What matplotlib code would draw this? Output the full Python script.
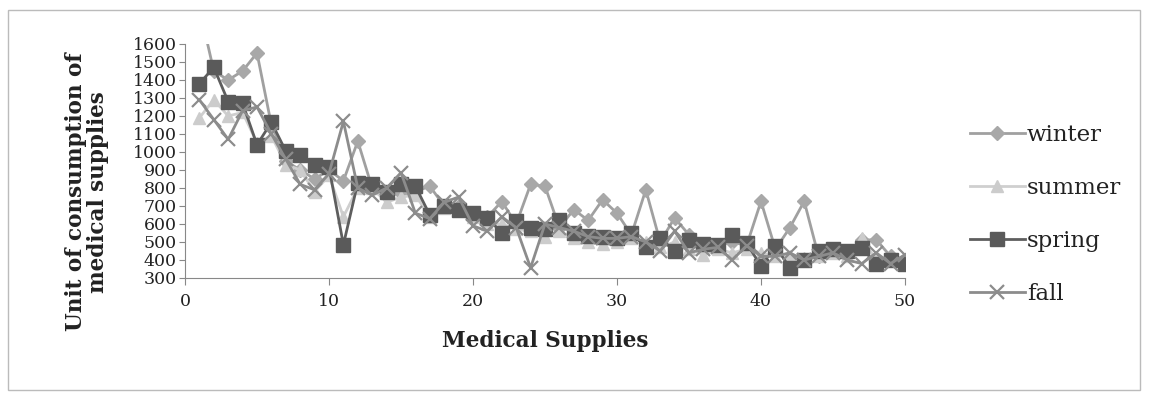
import matplotlib
matplotlib.use("Agg")
import matplotlib.pyplot as plt
from matplotlib.patches import Rectangle

x = list(range(1, 51))
winter = [1800, 1450, 1400, 1450, 1550, 1150, 950, 900, 850, 900,
          840, 1060, 800, 760, 770, 780, 810, 700, 700, 650,
          640, 725, 600, 820, 810, 580, 680, 620, 735, 660,
          540, 790, 500, 634, 540, 480, 480, 500, 480, 726,
          460, 579, 726, 420, 450, 440, 510, 513, 420, 390]
summer = [1190, 1290, 1200, 1220, 1050, 1090, 930, 900, 780, 870,
          640, 800, 800, 720, 750, 760, 640, 690, 680, 640,
          600, 600, 570, 560, 530, 560, 520, 500, 490, 500,
          520, 500, 470, 500, 460, 430, 460, 440, 460, 440,
          420, 420, 410, 420, 440, 420, 520, 400, 400, 400]
spring = [1380, 1470, 1280, 1270, 1040, 1165, 1005, 985, 930, 915,
          485, 830, 820, 780, 820, 810, 650, 700, 680, 660,
          635, 550, 615, 580, 570, 620, 550, 535, 530, 525,
          550, 470, 520, 450, 510, 490, 485, 540, 495, 365,
          476, 357, 400, 450, 460, 450, 465, 380, 400, 380]
fall = [1290, 1180, 1070, 1230, 1250, 1100, 960, 820, 790, 880,
        1170, 800, 760, 800, 885, 660, 630, 720, 750, 590,
        560, 640, 580, 357, 600, 580, 560, 530, 520, 520,
        530, 500, 450, 560, 440, 460, 470, 400, 480, 420,
        420, 440, 400, 420, 440, 400, 380, 440, 380, 430]
series_names = ["winter", "summer", "spring", "fall"]
yticks = list(range(300, 1601, 100))
xticks = [0, 10, 20, 30, 40, 50]

plt.rcParams['font.family'] = ['DejaVu Serif']

fig = plt.figure(figsize=(11.5, 3.99), dpi=100)
ax = fig.add_axes([185/1150, 1-278/399, (905-185)/1150, (278-44)/399])

styles = [
    dict(color="#a0a0a0", marker="D", markersize=7, mfc="#a8a8a8", mec="#a8a8a8"),
    dict(color="#cfcfcf", marker="^", markersize=8, mfc="#cccccc", mec="#cccccc"),
    dict(color="#5e5e5e", marker="s", markersize=10.5, mfc="#5a5a5a", mec="#5a5a5a"),
    dict(color="#8c8c8c", marker="x", markersize=10, mew=1.6, mec="#8c8c8c"),
]
for name, data, st in zip(series_names, [winter, summer, spring, fall], styles):
    ax.plot(x, data, label=name, lw=2.0, clip_on=True, **st)

ax.set_xlim(0, 50)
ax.set_ylim(300, 1600)
ax.set_yticks(yticks)
ax.set_xticks(xticks)
ax.tick_params(axis='y', labelsize=12.5, length=4, color="#888888", pad=2)
ax.tick_params(axis='x', labelsize=12.5, length=5, color="#888888", pad=6)
for lab in ax.get_yticklabels() + ax.get_xticklabels():
    lab.set_color("#222222")
for s in ["top", "right"]:
    ax.spines[s].set_visible(False)
ax.spines["left"].set_color("#888888")
ax.spines["bottom"].set_color("#888888")

ax.set_xlabel("Medical Supplies", fontsize=15.5, fontweight="bold", labelpad=14, color="#222222")
fig.text(87/1150, 1-192/399, "Unit of consumption of\nmedical supplies", rotation=90,
         fontsize=15.5, fontweight="bold", ha="center", va="center", color="#222222",
         linespacing=1.05)

leg = ax.legend(loc="center left", bbox_to_anchor=(1.077, 0.27), frameon=False,
                fontsize=16.5, labelspacing=1.35, handlelength=2.4, handletextpad=0.1,
                borderaxespad=0)
for t in leg.get_texts():
    t.set_color("#222222")

fig.patches.append(Rectangle((8/1150, 1-390/399), (1140-8)/1150, (390-10)/399,
                             transform=fig.transFigure, fill=False,
                             edgecolor="#bbbbbb", lw=1.0))

fig.savefig("out.png", dpi=100)
